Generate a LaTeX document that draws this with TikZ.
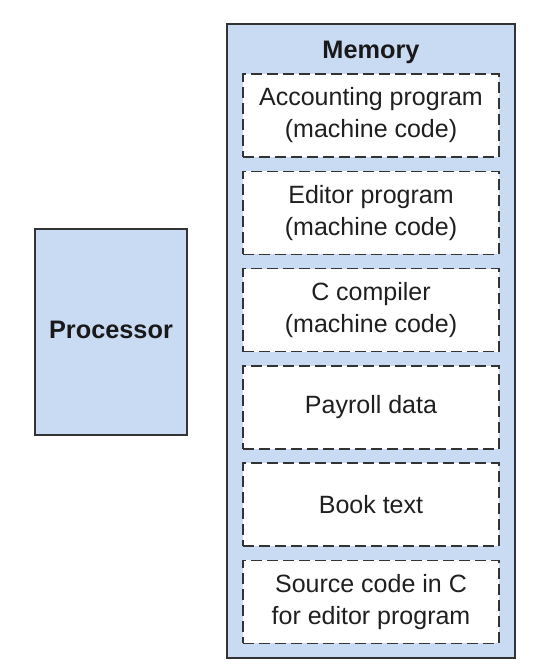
\documentclass[tikz,border=0pt]{standalone}
\usepackage{fontspec}
\setmainfont{Liberation Sans}
\begin{document}
\begin{tikzpicture}[x=1pt,y=1pt,
  unitbox/.style={draw=black!80, line width=1.6pt, fill=memblue, inner sep=0pt},
  slotbox/.style={draw=black!80, line width=1.4pt, dash pattern=on 11pt off 5pt,
    fill=white, minimum width=256pt, minimum height=83pt, inner sep=0pt,
    align=center, text=black!88, font=\fontsize{25}{32}\selectfont},
  titletext/.style={font=\fontsize{25.3}{30}\selectfont\bfseries, text=black!90}]
\definecolor{memblue}{HTML}{C9DAF3}
\useasboundingbox (0,0) rectangle (548,669);
% processor
\node[unitbox, minimum width=152pt, minimum height=206pt] (proc) at (111,337) {};
\node[titletext] (proclabel) at (111,339) {Processor};
% memory with its contents
\node[unitbox, minimum width=288pt, minimum height=634pt] (mem) at (371,328) {};
\node[titletext] (memlabel) at (371,617) {Memory};
\node[slotbox] (s1) at (371,553.5) {Accounting program\\(machine code)};
\node[slotbox] (s2) at (371,456.2) {Editor program\\(machine code)};
\node[slotbox] (s3) at (371,358.9) {C compiler\\(machine code)};
\node[slotbox] (s4) at (371,261.6) {Payroll data};
\node[slotbox] (s5) at (371,164.3) {Book text};
\node[slotbox] (s6) at (371,67) {Source code in C\\for editor program};
\end{tikzpicture}
\end{document}
